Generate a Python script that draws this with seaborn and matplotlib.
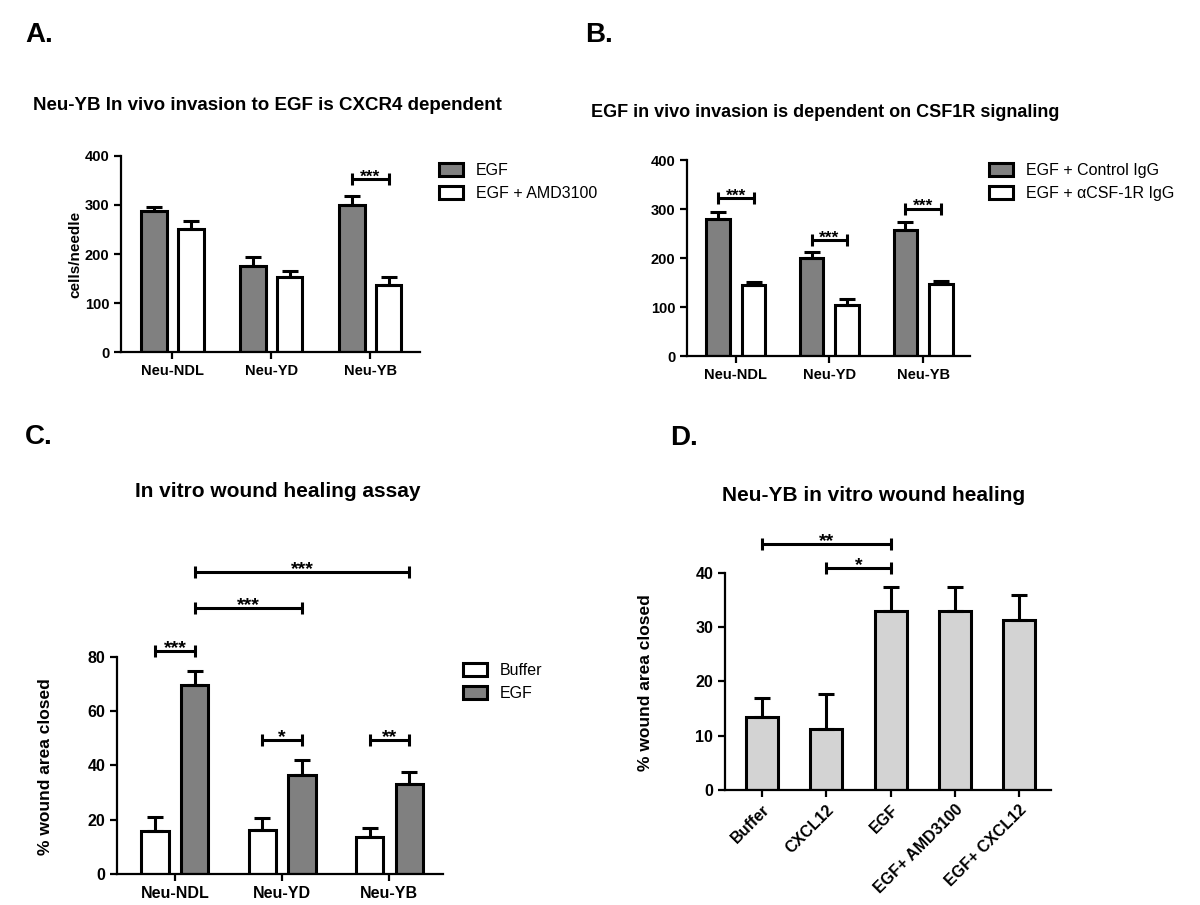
import numpy as np
import pandas as pd
import matplotlib
matplotlib.use('Agg')
import matplotlib.pyplot as plt
import seaborn as sns

sns.set_style('ticks')
plt.rcParams['font.family'] = ['Liberation Sans', 'DejaVu Sans']
plt.rcParams['font.weight'] = 'bold'
plt.rcParams['axes.linewidth'] = 1.6
for k in ['text.color', 'axes.labelcolor', 'xtick.color', 'ytick.color', 'axes.edgecolor']:
    plt.rcParams[k] = 'black'

lines = ['Neu-NDL', 'Neu-YD', 'Neu-YB']

# A: in vivo invasion, AMD3100
a_groups = ['EGF', 'EGF + AMD3100']
a_egf = [288, 176, 299]
a_egf_err = [8, 18, 20]
a_amd = [251, 154, 136]
a_amd_err = [16, 11, 17]
a_sig = [(2, 0, 2, 1, 352, '***')]

# B: in vivo invasion, CSF1R blocking
b_groups = ['EGF + Control IgG', 'EGF + \u03b1CSF-1R IgG']
b_ctrl = [280, 200, 257]
b_ctrl_err = [14, 13, 16]
b_anti = [144, 105, 147]
b_anti_err = [8, 11, 7]
b_sig = [(0, 0, 0, 1, 322, '***'), (1, 0, 1, 1, 236, '***'), (2, 0, 2, 1, 301, '***')]

# C: wound healing per line
c_groups = ['Buffer', 'EGF']
c_buffer = [15.7, 16.3, 13.5]
c_buffer_err = [5.3, 4.2, 3.5]
c_egf = [69.7, 36.6, 33.3]
c_egf_err = [5.0, 5.3, 4.2]
c_sig = [(0, 0, 0, 1, 82.3, '***'), (0, 1, 1, 1, 98.1, '***'), (0, 1, 2, 1, 111.3, '***'),
         (1, 0, 1, 1, 49.3, '*'), (2, 0, 2, 1, 49.3, '**')]

# D: Neu-YB wound healing
d_treat = ['Buffer', 'CXCL12', 'EGF', 'EGF+ AMD3100', 'EGF+ CXCL12']
d_vals = [13.4, 11.3, 33.0, 33.0, 31.3]
d_err = [3.6, 6.4, 4.4, 4.4, 4.6]
d_sig = [(0, 2, 45.4, '**'), (1, 2, 40.9, '*')]

LW = 2.2


def bracket(ax, x1, x2, y, txt, size=12.5):
    ax.plot([x1, x2], [y, y], color='black', lw=LW, clip_on=False, solid_capstyle='butt')
    ax.plot([x1, x2], [y, y], ls='none', marker='|', ms=8, mew=LW, color='black', clip_on=False)
    ax.annotate(txt, ((x1 + x2) / 2, y), xytext=(0, -1.5), textcoords='offset points',
                ha='center', va='baseline', fontsize=size, fontweight='bold', annotation_clip=False)


def grouped(ax, groups, v1, e1, v2, e2, colors, width, gap, yticks, sig, fs=10.5, star=12.5):
    df = pd.DataFrame({'line': lines * 2,
                       'group': [groups[0]] * 3 + [groups[1]] * 3,
                       'value': v1 + v2})
    sns.barplot(data=df, x='line', y='value', hue='group', order=lines, hue_order=groups,
                palette=colors, width=width, gap=gap, saturation=1, edgecolor='black',
                linewidth=LW, errorbar=None, ax=ax)
    xs = [[p.get_x() + p.get_width() / 2 for p in c] for c in ax.containers]
    for x, v, e in zip(xs, [v1, v2], [e1, e2]):
        ax.errorbar(x, v, yerr=[np.zeros(len(v)), e], fmt='none', ecolor='black',
                    elinewidth=LW, capsize=6, capthick=LW, zorder=3)
    for g1, h1, g2, h2, y, txt in sig:
        bracket(ax, xs[h1][g1], xs[h2][g2], y, txt, star)
    ax.set_ylim(yticks[0], yticks[-1])
    ax.set_yticks(yticks)
    ax.set_xlabel('')
    ax.set_ylabel('')
    ax.set_xlim(-0.52, 2.5)
    sns.despine(ax=ax)
    ax.tick_params(width=1.6, length=5, labelsize=fs)
    return xs


fig = plt.figure(figsize=(12, 9.05), dpi=100)
axA = fig.add_axes([0.1008, 0.6107, 0.249, 0.2172])
axB = fig.add_axes([0.5725, 0.6066, 0.2358, 0.2166])
axC = fig.add_axes([0.0975, 0.0343, 0.2717, 0.2398])
axD = fig.add_axes([0.6042, 0.1271, 0.2717, 0.2398])

grouped(axA, a_groups, a_egf, a_egf_err, a_amd, a_amd_err, ['#808080', 'white'],
        0.74, 0.3, [0, 100, 200, 300, 400], a_sig)
axA.set_ylabel('cells/needle', fontsize=11, fontweight='bold')
axA.yaxis.set_label_coords(-0.13, 0.5)

grouped(axB, b_groups, b_ctrl, b_ctrl_err, b_anti, b_anti_err, ['#808080', 'white'],
        0.76, 0.34, [0, 100, 200, 300, 400], b_sig)

grouped(axC, c_groups, c_buffer, c_buffer_err, c_egf, c_egf_err, ['white', '#808080'],
        0.74, 0.31, [0, 20, 40, 60, 80], c_sig, fs=11.5, star=14)
axC.set_xlim(-0.54, 2.5)
axC.set_ylabel('% wound area closed', fontsize=12.5, fontweight='bold')
axC.yaxis.set_label_coords(-0.196, 0.493)

for ax, x, y in [(axA, 0.366, 0.820), (axB, 0.824, 0.820), (axC, 0.386, 0.2674)]:
    h, l = ax.get_legend_handles_labels()
    ax.legend(h, l, loc='upper left', bbox_to_anchor=(x, y), bbox_transform=fig.transFigure,
              frameon=False, borderpad=0, borderaxespad=0, handlelength=1.5, handleheight=0.9,
              handletextpad=0.8, labelspacing=0.5, prop={'size': 11.5, 'weight': 'normal'})

# D
sns.barplot(x=d_treat, y=d_vals, color='#d3d3d3', saturation=1, width=0.5, edgecolor='black',
            linewidth=LW, errorbar=None, ax=axD)
dx = [p.get_x() + p.get_width() / 2 for p in axD.containers[0]]
axD.errorbar(dx, d_vals, yerr=[np.zeros(len(d_vals)), d_err], fmt='none', ecolor='black',
             elinewidth=LW, capsize=6, capthick=LW, zorder=3)
for i1, i2, y, txt in d_sig:
    bracket(axD, dx[i1], dx[i2], y, txt, 14)
axD.set_ylim(0, 40)
axD.set_yticks([0, 10, 20, 30, 40])
axD.set_xlim(-0.58, 4.5)
sns.despine(ax=axD)
axD.tick_params(width=1.6, length=5, labelsize=11.5)
plt.setp(axD.get_xticklabels(), rotation=45, ha='right', rotation_mode='anchor')
axD.set_ylabel('% wound area closed', fontsize=12.5, fontweight='bold')
axD.yaxis.set_label_coords(-0.221, 0.493)

# titles and panel letters
fig.text(0.2225, 0.883, 'Neu-YB In vivo invasion to EGF is CXCR4 dependent', ha='center', va='center', fontsize=13.5, fontweight='bold')
fig.text(0.6875, 0.876, 'EGF in vivo invasion is dependent on CSF1R signaling', ha='center', va='center', fontsize=13, fontweight='bold')
fig.text(0.2317, 0.4564, 'In vitro wound healing assay', ha='center', va='center', fontsize=15, fontweight='bold')
fig.text(0.7283, 0.453, 'Neu-YB in vitro wound healing', ha='center', va='center', fontsize=15, fontweight='bold')

for txt, x, y in [('A.', 25, 35), ('B.', 585, 35), ('C.', 25, 437), ('D.', 670, 438)]:
    fig.text(x / 1200, 1 - y / 905, txt, ha='left', va='center', fontsize=20, fontweight='bold')

fig.savefig('out.png', dpi=100)
